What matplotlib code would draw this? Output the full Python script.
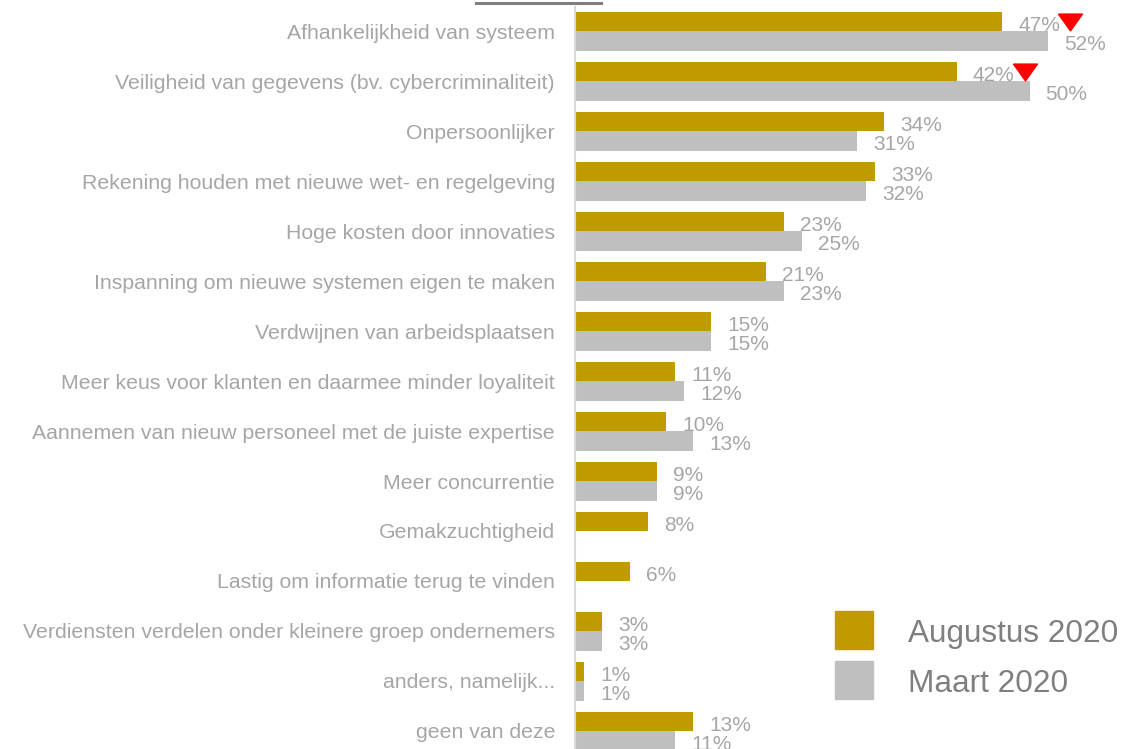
import numpy as np
import matplotlib
matplotlib.use("Agg")
import matplotlib.pyplot as plt
from matplotlib.lines import Line2D
from matplotlib.patches import Rectangle

plt.rcParams['font.family'] = ['Liberation Sans', 'DejaVu Sans']

categories = [
    "Afhankelijkheid van systeem",
    "Veiligheid van gegevens (bv. cybercriminaliteit)",
    "Onpersoonlijker",
    "Rekening houden met nieuwe wet- en regelgeving",
    "Hoge kosten door innovaties",
    "Inspanning om nieuwe systemen eigen te maken",
    "Verdwijnen van arbeidsplaatsen",
    "Meer keus voor klanten en daarmee minder loyaliteit",
    "Aannemen van nieuw personeel met de juiste expertise",
    "Meer concurrentie",
    "Gemakzuchtigheid",
    "Lastig om informatie terug te vinden",
    "Verdiensten verdelen onder kleinere groep ondernemers",
    "anders, namelijk...",
    "geen van deze",
]
augustus = [47, 42, 34, 33, 23, 21, 15, 11, 10, 9, 8, 6, 3, 1, 13]
maart = [52, 50, 31, 32, 25, 23, 15, 12, 13, 9, np.nan, np.nan, 3, 1, 11]
series = ['Augustus 2020', 'Maart 2020']
daling = [0, 1]  # categorieen met rode driehoek

GOLD = '#BF9B00'
GREY = '#BFBFBF'
LBL = '#A6A6A6'

W, H = 1142, 749
PX = 9.09  # pixels per procent
fig = plt.figure(figsize=(W / 100, H / 100), dpi=100)
ax = fig.add_axes([575 / W, 0, 1 - 575 / W, 1 - 7 / H])

y = np.arange(len(categories))
ax.barh(y - 0.195, augustus, height=0.39, color=GOLD)
ax.barh(y + 0.2, maart, height=0.4, color=GREY)

ax.set_xlim(0, (W - 575) / PX)
ax.set_ylim((H - 31) / 50, (7 - 31) / 50)

off = 16 / PX
for i in range(len(categories)):
    ax.text(augustus[i] + off, y[i] + 0.0, f"{augustus[i]}%", va='baseline',
            ha='left', fontsize=15, color=LBL)
    if not np.isnan(maart[i]):
        ax.text(maart[i] + off, y[i] + 0.375, f"{maart[i]:.0f}%", va='baseline',
                ha='left', fontsize=15, color=LBL)

tri = [(-1, 0.7), (1, 0.7), (0, -0.7), (-1, 0.7)]
for i in daling:
    ax.plot(augustus[i] + 68 / PX, y[i] - 0.19, marker=tri, ms=17.3,
            color='#FF0000', linestyle='none')

ax.set_yticks(y)
ax.set_yticklabels(categories, fontsize=15.3, color=LBL)
ax.tick_params(axis='y', length=0, pad=14.4)
ax.set_xticks([])
for s in ['top', 'right', 'bottom']:
    ax.spines[s].set_visible(False)
ax.spines['left'].set_color('#D9D9D9')
ax.spines['left'].set_linewidth(1.5)

# legenda
for k, (naam, kleur) in enumerate(zip(series, [GOLD, GREY])):
    top = 611 + 50 * k
    fig.add_artist(Rectangle((835 / W, 1 - (top + 38) / H), 38 / W, 38 / H,
                             color=kleur, transform=fig.transFigure))
    fig.text(908 / W, 1 - (top + 31) / H, naam, fontsize=22.7,
             color='#7F7F7F', va='baseline', ha='left')

fig.add_artist(Line2D([476 / W, 601 / W], [1 - 3 / H, 1 - 3 / H],
                      color='#7F7F7F', linewidth=2.2, transform=fig.transFigure))

fig.savefig('out.png', dpi=100)
